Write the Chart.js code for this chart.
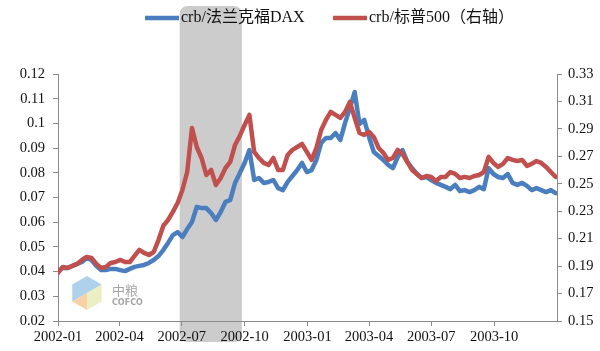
<!DOCTYPE html>
<html>
<head>
<meta charset="utf-8">
<script src="https://cdn.jsdelivr.net/npm/chart.js@4.4.1/dist/chart.umd.min.js"></script>
<style>
    html, body { margin: 0; padding: 0; background: #fff; }
    #wrap { position: relative; width: 600px; height: 351px; }
</style>
</head>
<body>
<div id="wrap"><canvas id="chart" width="600" height="351"></canvas></div>
<script>
// weekly observation dates
const dates = [
    '2002-01-01', '2002-01-08', '2002-01-15', '2002-01-22', '2002-01-29',
    '2002-02-05', '2002-02-12', '2002-02-19', '2002-02-26',
    '2002-03-05', '2002-03-12', '2002-03-19', '2002-03-26',
    '2002-04-02', '2002-04-09', '2002-04-16', '2002-04-23', '2002-04-30',
    '2002-05-07', '2002-05-14', '2002-05-21', '2002-05-28',
    '2002-06-04', '2002-06-11', '2002-06-18', '2002-06-25',
    '2002-07-02', '2002-07-09', '2002-07-16', '2002-07-23', '2002-07-30',
    '2002-08-06', '2002-08-13', '2002-08-20', '2002-08-27',
    '2002-09-03', '2002-09-10', '2002-09-17', '2002-09-24',
    '2002-10-01', '2002-10-08', '2002-10-15', '2002-10-22', '2002-10-29',
    '2002-11-05', '2002-11-12', '2002-11-19', '2002-11-26',
    '2002-12-03', '2002-12-10', '2002-12-17', '2002-12-24', '2002-12-31',
    '2003-01-07', '2003-01-14', '2003-01-21', '2003-01-28',
    '2003-02-04', '2003-02-11', '2003-02-18', '2003-02-25',
    '2003-03-04', '2003-03-11', '2003-03-18', '2003-03-25',
    '2003-04-01', '2003-04-08', '2003-04-15', '2003-04-22', '2003-04-29',
    '2003-05-06', '2003-05-13', '2003-05-20', '2003-05-27',
    '2003-06-03', '2003-06-10', '2003-06-17', '2003-06-24',
    '2003-07-01', '2003-07-08', '2003-07-15', '2003-07-22', '2003-07-29',
    '2003-08-05', '2003-08-12', '2003-08-19', '2003-08-26',
    '2003-09-02', '2003-09-09', '2003-09-16', '2003-09-23', '2003-09-30',
    '2003-10-07', '2003-10-14', '2003-10-21', '2003-10-28',
    '2003-11-04', '2003-11-11', '2003-11-18', '2003-11-25',
    '2003-12-02', '2003-12-09', '2003-12-16', '2003-12-23', '2003-12-30'
]

// crb / DAX (left axis)
const crbDax = [
    0.0402, 0.0415, 0.0415, 0.0423, 0.0431, 0.0439, 0.0455, 0.0447, 0.0423, 0.0406,
    0.0406, 0.0411, 0.0411, 0.0406, 0.0402, 0.0411, 0.0419, 0.0423, 0.0427, 0.0435,
    0.0447, 0.0463, 0.0487, 0.0516, 0.0548, 0.0560, 0.0540, 0.0572, 0.0601, 0.0662,
    0.0657, 0.0657, 0.0637, 0.0609, 0.0641, 0.0682, 0.0690, 0.0759, 0.0799, 0.0840,
    0.0892, 0.0771, 0.0779, 0.0759, 0.0763, 0.0771, 0.0738, 0.0730, 0.0763, 0.0787,
    0.0811, 0.0840, 0.0803, 0.0811, 0.0852, 0.0921, 0.0941, 0.0941, 0.0961, 0.0933,
    0.1002, 0.1062, 0.1127, 0.0998, 0.1014, 0.0945, 0.0884, 0.0868, 0.0852, 0.0832,
    0.0819, 0.0864, 0.0892, 0.0844, 0.0819, 0.0795, 0.0779, 0.0783, 0.0771, 0.0759,
    0.0751, 0.0743, 0.0734, 0.0751, 0.0726, 0.0730, 0.0722, 0.0730, 0.0743, 0.0734,
    0.0819, 0.0795, 0.0783, 0.0779, 0.0795, 0.0759, 0.0751, 0.0759, 0.0747, 0.0730,
    0.0738, 0.0730, 0.0722, 0.0730, 0.0718
]

// crb / S&P 500 (right axis)
const crbSpx = [
    0.1850, 0.1894, 0.1886, 0.1901, 0.1916, 0.1945, 0.1967, 0.1959, 0.1916, 0.1886,
    0.1894, 0.1923, 0.1930, 0.1945, 0.1930, 0.1930, 0.1974, 0.2018, 0.1996, 0.1981,
    0.2003, 0.2090, 0.2193, 0.2236, 0.2295, 0.2360, 0.2455, 0.2586, 0.2907, 0.2768,
    0.2688, 0.2564, 0.2601, 0.2491, 0.2542, 0.2615, 0.2659, 0.2783, 0.2849, 0.2929,
    0.3002, 0.2732, 0.2688, 0.2652, 0.2637, 0.2688, 0.2601, 0.2601, 0.2710, 0.2747,
    0.2768, 0.2790, 0.2732, 0.2674, 0.2761, 0.2892, 0.2965, 0.3024, 0.3002, 0.2980,
    0.3024, 0.3097, 0.2980, 0.2871, 0.2856, 0.2878, 0.2841, 0.2761, 0.2725, 0.2674,
    0.2688, 0.2747, 0.2717, 0.2659, 0.2601, 0.2572, 0.2542, 0.2557, 0.2550, 0.2521,
    0.2550, 0.2550, 0.2586, 0.2572, 0.2542, 0.2550, 0.2542, 0.2557, 0.2564, 0.2586,
    0.2696, 0.2652, 0.2623, 0.2645, 0.2688, 0.2674, 0.2666, 0.2674, 0.2630, 0.2645,
    0.2666, 0.2652, 0.2623, 0.2586, 0.2550
]

const seriesNames = ['crb/法兰克福DAX', 'crb/标普500（右轴）']
const tickDates = ['2002-01-01', '2002-04-01', '2002-07-01', '2002-10-01',
    '2003-01-01', '2003-04-01', '2003-07-01', '2003-10-01']
const tickLabels = ['2002-01', '2002-04', '2002-07', '2002-10',
    '2003-01', '2003-04', '2003-07', '2003-10']
const leftTicks = [0.02, 0.03, 0.04, 0.05, 0.06, 0.07, 0.08, 0.09, 0.1, 0.11, 0.12]
const leftLabels = ['0.02', '0.03', '0.04', '0.05', '0.06', '0.07', '0.08', '0.09', '0.1', '0.11', '0.12']
const rightTicks = [0.15, 0.17, 0.19, 0.21, 0.23, 0.25, 0.27, 0.29, 0.31, 0.33]
const rightLabels = ['0.15', '0.17', '0.19', '0.21', '0.23', '0.25', '0.27', '0.29', '0.31', '0.33']
const xRange = ['2002-01-01', '2004-01-01']
const shadedRange = ['2002-06-28', '2002-09-27']

const blue = '#4a7ebf'
const red = '#c0504d'
const serif = "'Liberation Serif', 'Noto Sans CJK SC', serif"

// days since start of range
const toDay = s => (Date.parse(s) - Date.parse(xRange[0])) / 86400000

const points = values => values.map((v, i) => ({ x: toDay(dates[i]), y: v }))

// shaded period behind everything
const bandPlugin = {
    id: 'band',
    beforeDraw(chart) {
        const ctx = chart.ctx
        const x = chart.scales.x
        const x0 = x.getPixelForValue(toDay(shadedRange[0]))
        const x1 = x.getPixelForValue(toDay(shadedRange[1]))
        ctx.save()
        ctx.fillStyle = '#cccccc'
        ctx.beginPath()
        ctx.roundRect(x0, 6, x1 - x0, 336, 8)
        ctx.fill()
        ctx.restore()
    }
}

// faint company watermark, lower left
const watermarkPlugin = {
    id: 'watermark',
    beforeDatasetsDraw(chart) {
        const ctx = chart.ctx
        const cx = 87, cy = 293, r = 17
        const pt = deg => [cx + r * Math.cos(deg * Math.PI / 180), cy + r * Math.sin(deg * Math.PI / 180)]
        const face = (angles, color) => {
            ctx.fillStyle = color
            ctx.beginPath()
            ctx.moveTo(cx, cy)
            angles.forEach(a => ctx.lineTo(...pt(a)))
            ctx.closePath()
            ctx.fill()
        }
        ctx.save()
        ctx.globalAlpha = 0.6
        face([150, 210, 270, 330], '#79b2dd')
        face([330, 30, 90], '#dfe59c')
        face([90, 150], '#f4b46b')
        ctx.globalAlpha = 1
        ctx.fillStyle = '#a4a4a4'
        ctx.font = "13px 'Noto Sans CJK SC'"
        ctx.textBaseline = 'middle'
        ctx.fillText('中粮', 112, 290)
        ctx.font = "bold 8px 'DejaVu Sans'"
        ctx.fillText('COFCO', 112, 303)
        ctx.restore()
    }
}

// legend drawn on top of the shaded band
const legendPlugin = {
    id: 'lineLegend',
    afterDraw(chart) {
        const ctx = chart.ctx
        const items = [
            { x: 145, color: blue, text: seriesNames[0] },
            { x: 333, color: red, text: seriesNames[1] }
        ]
        ctx.save()
        ctx.font = `16px ${serif}`
        ctx.textBaseline = 'middle'
        items.forEach(item => {
            ctx.strokeStyle = item.color
            ctx.lineWidth = 4.5
            ctx.beginPath()
            ctx.moveTo(item.x, 18)
            ctx.lineTo(item.x + 34, 18)
            ctx.stroke()
            ctx.fillStyle = '#111'
            ctx.fillText(item.text, item.x + 36, 18)
        })
        ctx.restore()
    }
}

const axisColor = '#8a8a8a'
const tickFont = { family: serif, size: 14.5 }

const config = {
    type: 'line',
    data: {
        datasets: [{
            label: seriesNames[1],
            data: points(crbSpx),
            yAxisID: 'y1',
            borderColor: red,
            backgroundColor: red
        }, {
            label: seriesNames[0],
            data: points(crbDax),
            yAxisID: 'y',
            borderColor: blue,
            backgroundColor: blue
        }]
    },
    options: {
        responsive: false,
        animation: false,
        layout: { padding: { top: 74, left: 0, right: 0, bottom: 0 } },
        elements: {
            point: { radius: 0 },
            line: { borderWidth: 4.5, tension: 0, borderJoinStyle: 'round', borderCapStyle: 'round' }
        },
        plugins: {
            legend: { display: false },
            tooltip: { enabled: false }
        },
        scales: {
            x: {
                type: 'linear',
                min: toDay(xRange[0]),
                max: toDay(xRange[1]),
                afterBuildTicks: scale => {
                    scale.ticks = tickDates.map(d => ({ value: toDay(d) }))
                },
                afterFit: scale => { scale.height = 30 },
                border: { display: true, color: axisColor, width: 1 },
                grid: { drawOnChartArea: false, drawTicks: true, tickLength: 5, color: axisColor },
                ticks: {
                    autoSkip: false,
                    maxRotation: 0,
                    padding: 2,
                    color: '#111',
                    font: tickFont,
                    callback: (v, i) => tickLabels[i]
                }
            },
            y: {
                position: 'left',
                min: leftTicks[0],
                max: leftTicks[leftTicks.length - 1],
                afterBuildTicks: scale => {
                    scale.ticks = leftTicks.map(v => ({ value: v }))
                },
                afterFit: scale => { scale.width = 58 },
                border: { display: true, color: axisColor, width: 1 },
                grid: { drawOnChartArea: false, drawTicks: true, tickLength: 5, color: axisColor },
                ticks: {
                    padding: 8,
                    color: '#111',
                    font: tickFont,
                    callback: (v, i) => leftLabels[i]
                }
            },
            y1: {
                position: 'right',
                min: rightTicks[0],
                max: rightTicks[rightTicks.length - 1],
                afterBuildTicks: scale => {
                    scale.ticks = rightTicks.map(v => ({ value: v }))
                },
                afterFit: scale => { scale.width = 43 },
                border: { display: true, color: axisColor, width: 1 },
                grid: { drawOnChartArea: false, drawTicks: true, tickLength: 5, color: axisColor },
                ticks: {
                    padding: 6,
                    color: '#111',
                    font: tickFont,
                    callback: (v, i) => rightLabels[i]
                }
            }
        }
    },
    plugins: [bandPlugin, watermarkPlugin, legendPlugin]
}

const chart = new Chart(document.getElementById('chart').getContext('2d'), config)
</script>
</body>
</html>
